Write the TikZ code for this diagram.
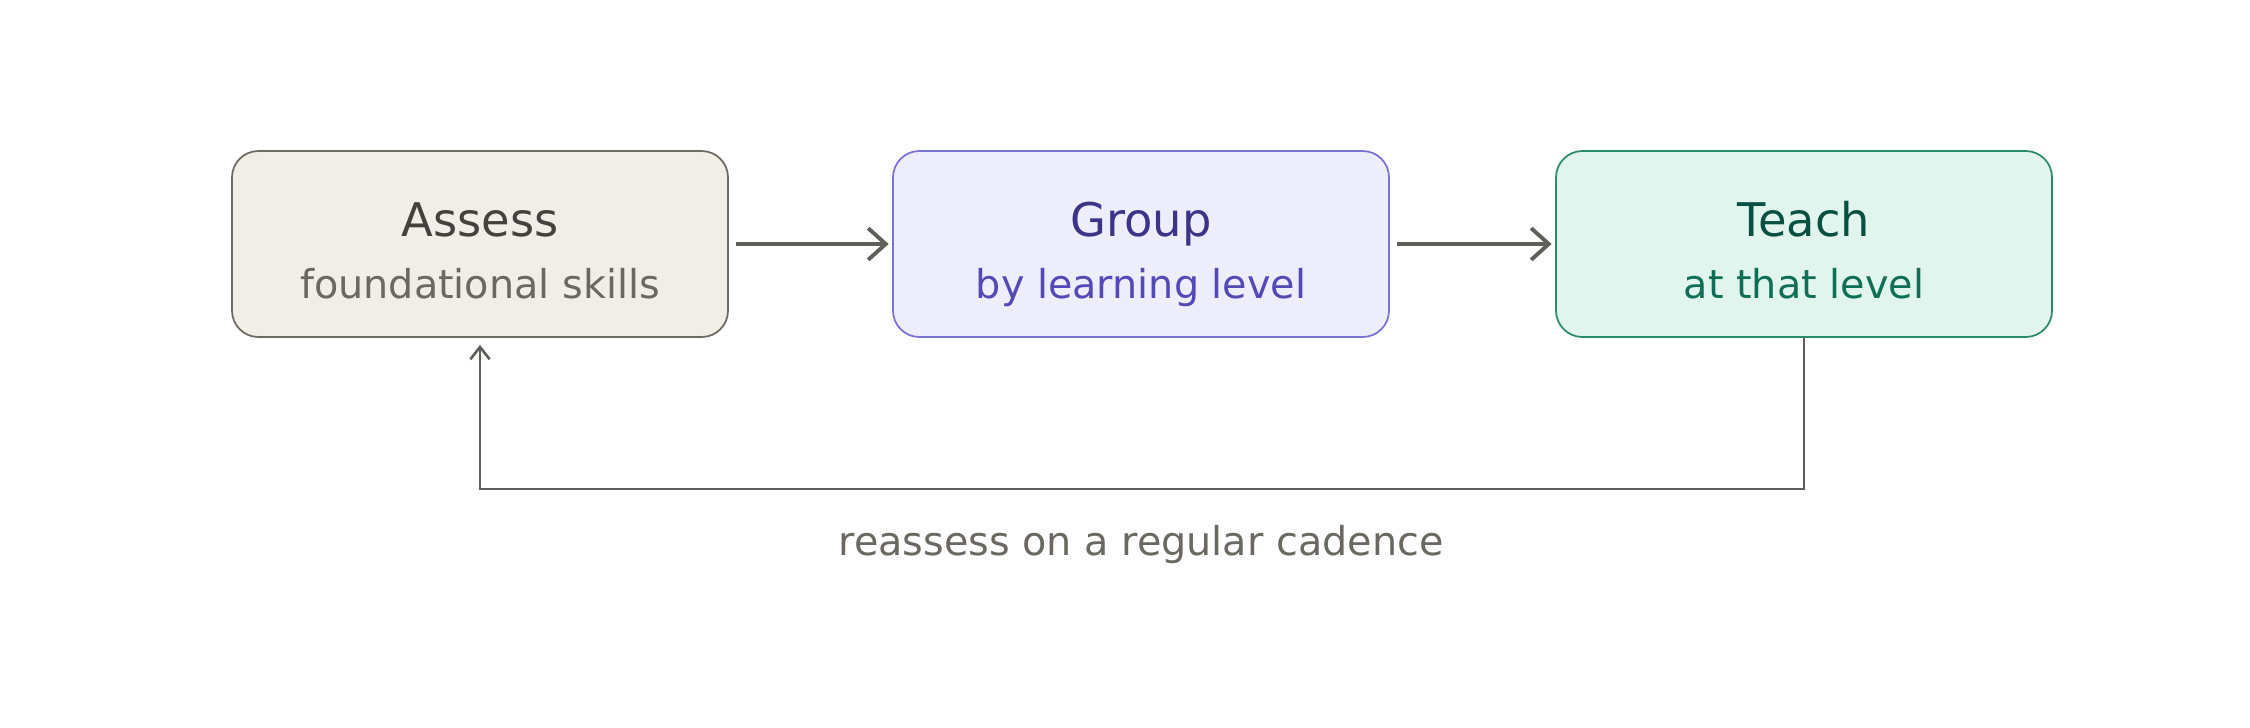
\documentclass[tikz,border=0pt]{standalone}
\usepackage{fontspec}
\setmainfont{DejaVu Sans}
\usepackage{xcolor}
\definecolor{assessfill}{HTML}{F1EEE8}
\definecolor{assessdraw}{HTML}{6E6A64}
\definecolor{assesstext}{HTML}{44423F}
\definecolor{assesssub}{HTML}{6B6862}
\definecolor{groupfill}{HTML}{EEEDFC}
\definecolor{groupdraw}{HTML}{7B73D4}
\definecolor{grouptext}{HTML}{3C3489}
\definecolor{groupsub}{HTML}{534AB7}
\definecolor{teachfill}{HTML}{E1F5EE}
\definecolor{teachdraw}{HTML}{2E8B68}
\definecolor{teachtext}{HTML}{085041}
\definecolor{teachsub}{HTML}{0F6E56}
\definecolor{arrowgray}{HTML}{5F5E5A}
\usepackage{tikz}
\usetikzlibrary{arrows.meta, positioning, calc}

\newcommand{\stagetitle}[1]{{\fontsize{13.2}{16}\selectfont\rule{0pt}{17.4pt}#1}}
\newcommand{\stagesub}[1]{{\fontsize{11.3}{14}\selectfont\rule[-4pt]{0pt}{4pt}#1}}

\begin{document}
\begin{tikzpicture}[
    stagebox/.style={rectangle, rounded corners=7.5pt, line width=0.5pt, minimum height=1.86cm, minimum width=4.96cm, align=center, inner sep=0pt},
    arr/.style={-{Straight Barb[length=5pt, width=9pt, line width=1.1pt]}, line width=1.1pt, arrowgray},
    backarr/.style={-{Straight Barb[length=3.5pt, width=5.5pt, line width=0.75pt]}, line width=0.8pt, arrowgray}
  ]
    \useasboundingbox (0,0) rectangle (22.5,-7.27);

    \node[stagebox, draw=assessdraw, fill=assessfill] (assess) at (4.80, -2.44) {\color{assesstext}\stagetitle{Assess}\\[5.6pt]\color{assesssub}\stagesub{foundational skills}};
    \node[stagebox, draw=groupdraw, fill=groupfill] (group) at (11.41, -2.44) {\color{grouptext}\stagetitle{Group}\\[5.6pt]\color{groupsub}\stagesub{by learning level}};
    \node[stagebox, draw=teachdraw, fill=teachfill] (teach) at (18.04, -2.44) {\color{teachtext}\stagetitle{Teach}\\[5.6pt]\color{teachsub}\stagesub{at that level}};

    \draw[arr] ([xshift=2pt]assess.east) -- ([xshift=-1pt]group.west);
    \draw[arr] ([xshift=2pt]group.east) -- ([xshift=-1pt]teach.west);

    \coordinate (turn) at (18.04, -4.89);
    \draw[backarr] (teach.south) -- (turn) -| ([yshift=-2pt]assess.south);

    \node[text=assesssub, font=\fontsize{11.3}{14}\selectfont] (cadence) at (11.41, -5.45) {reassess on a regular cadence};
  \end{tikzpicture}
\end{document}
